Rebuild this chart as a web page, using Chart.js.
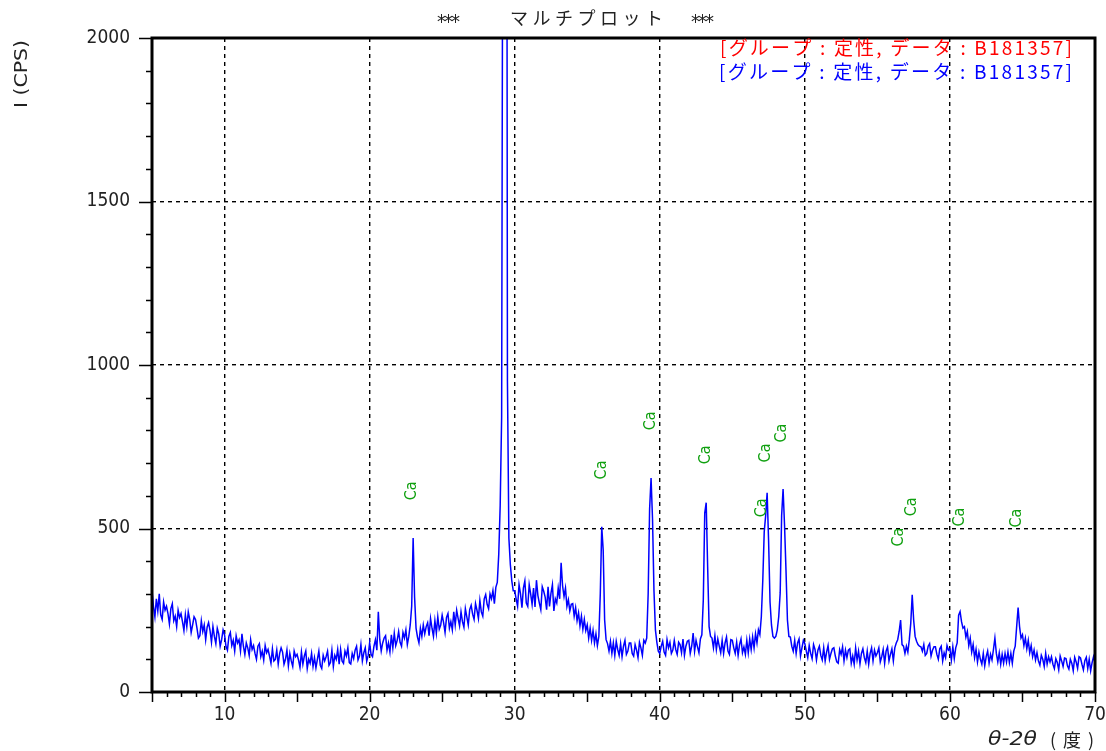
<!DOCTYPE html>
<html><head><meta charset="utf-8">
<script src="https://cdn.jsdelivr.net/npm/chart.js@4"></script>
<style>html,body{margin:0;padding:0;background:#fff}#wrap{width:1106px;height:751px;position:relative}</style>
</head><body><div id="wrap"><canvas id="c"></canvas></div>
<script>
// ---- data ----
const startAngle = 5;      // 2θ of first sample (deg)
const angleStep = 0.1;     // sampling step (deg)
const intensity = [
  312,262,230,285,248,300,236,222,275,250,
  262,240,208,255,270,218,232,200,250,228,
  240,215,188,236,200,245,222,182,205,230,
  222,195,165,172,218,185,205,160,198,212,
  188,152,200,170,148,195,178,140,160,190,
  175,140,128,170,182,142,158,125,172,150,
  160,125,178,140,115,150,135,112,160,130,
  142,118,100,140,148,108,125,98,142,120,
  130,110,88,132,95,100,128,85,118,135,
  122,85,100,128,80,118,95,78,125,108,
  115,98,75,122,85,110,125,72,100,88,
  118,78,105,74,100,125,82,72,112,95,
  108,125,82,90,128,78,112,100,130,85,
  130,95,88,125,110,135,90,86,118,102,
  128,140,98,110,145,95,120,135,94,112,
  150,115,108,140,160,128,245,160,125,150,
  165,172,128,150,122,175,135,180,142,158,
  185,152,140,182,165,190,145,170,205,262,
  471,290,195,168,150,195,170,205,178,200,
  212,172,225,195,170,218,180,230,192,205,
  235,212,182,228,240,195,215,190,245,205,
  250,225,202,245,215,198,255,230,205,252,
  265,238,222,270,250,225,280,245,232,285,
  298,268,255,300,285,310,270,320,335,420,
  570,840,3000,6000,5000,950,470,390,340,310,
  310,285,262,328,300,258,318,340,272,262,
  328,300,268,318,260,342,295,272,252,322,
  308,290,252,322,262,302,328,248,285,272,
  318,285,395,325,292,318,262,282,248,268,
  270,232,258,218,242,202,232,192,222,188,
  205,165,195,158,188,150,178,142,170,300,
  505,434,220,160,148,125,155,118,150,112,
  155,130,112,148,108,140,158,115,125,150,
  150,118,110,145,128,105,152,135,112,158,
  150,165,300,560,654,530,310,190,152,125,
  118,140,155,122,112,160,135,152,118,128,
  158,130,115,152,145,120,162,112,140,155,
  158,118,140,180,125,158,138,120,162,175,
  281,547,579,383,200,170,165,135,172,130,
  162,140,120,158,118,150,168,125,115,160,
  158,135,118,152,112,145,162,120,138,115,
  158,120,162,130,168,135,178,150,190,175,
  230,340,490,540,609,465,275,205,170,165,
  170,190,230,303,540,621,510,373,220,170,
  168,140,125,158,118,150,162,110,135,158,
  148,125,105,142,118,102,145,130,98,128,
  140,112,98,135,95,122,142,100,118,132,
  135,110,92,88,130,115,138,95,128,105,
  128,132,88,110,85,135,98,125,86,118,
  132,105,90,125,85,118,135,95,128,110,
  120,135,92,108,130,88,125,138,95,115,
  132,95,135,150,160,185,220,145,140,118,
  140,122,160,210,297,220,170,155,145,140,
  138,125,145,112,118,140,148,110,128,138,
  138,115,100,132,140,95,120,105,142,128,
  132,98,138,102,135,150,235,246,215,195,
  200,168,185,142,165,122,145,105,130,92,
  122,100,85,118,80,108,125,88,115,98,
  130,165,118,92,120,85,115,88,118,92,
  122,90,118,88,125,140,200,258,200,165,
  175,142,165,132,158,120,142,108,128,98,
  120,95,82,112,100,78,118,85,108,92,
  108,85,72,102,90,68,110,95,78,104,
  102,80,70,100,88,65,106,92,72,108,
  104,85,68,96,106,72,100,65,90,108,
  90
];
const caAngles = [22.92, 35.98, 39.39, 43.16, 47.04, 47.32, 48.42, 56.49, 57.38, 60.69, 64.62];
const caLevels = [615, 679, 829, 725, 563, 731, 792, 474, 566, 535, 532];
const caLabel = 'Ca';
const xTickValues = [10, 20, 30, 40, 50, 60, 70];
const yTickValues = [0, 500, 1000, 1500, 2000];
const xGridValues = [10, 20, 30, 40, 50, 60];
const yGridValues = [500, 1000, 1500];
const titleStars = '***';
const titleText = 'マルチプロット';
const legendText = '[グループ : 定性, データ : B181357]';
const yTitle = 'I (CPS)';
const xTitleA = 'θ-2θ';
const xTitleB = '(度)';

// ---- helpers ----
const NARROW = "'Liberation Sans Narrow','DejaVu Sans Condensed','DejaVu Sans',sans-serif";
const CJK = "'Noto Sans CJK JP','Noto Sans',sans-serif";

function fitText(ctx, text, x, y, width, opt) {
  ctx.save();
  ctx.font = opt.font; ctx.fillStyle = opt.color;
  ctx.textBaseline = 'middle'; ctx.textAlign = 'left';
  ctx.translate(x, y);
  if (opt.rotate) ctx.rotate(opt.rotate);
  const w0 = ctx.measureText(text).width;
  const n = [...text].length;
  const left = opt.align === 'center' ? -width / 2 : (opt.align === 'right' ? -width : 0);
  if (opt.mode === 'spacing' && ('letterSpacing' in ctx) && n > 1) {
    ctx.letterSpacing = ((width - w0) / (n - 1)) + 'px';
    ctx.fillText(text, left, 0);
  } else {
    ctx.translate(left, 0);
    ctx.scale(width / w0, 1);
    ctx.fillText(text, 0, 0);
  }
  ctx.restore();
}

const decor = {
  id: 'decor',
  afterDatasetsDraw(chart) {
    const {ctx, chartArea: a, scales: {x, y}} = chart;
    ctx.save();
    ctx.strokeStyle = '#000';
    ctx.lineWidth = 1.5;
    ctx.beginPath();
    for (let v = 5; v <= 70; v++) {
      const px = Math.round(x.getPixelForValue(v)) + 0.5;
      const len = v % 5 === 0 ? 10 : 5;
      ctx.moveTo(px, a.bottom); ctx.lineTo(px, a.bottom + len);
    }
    for (let v = 0; v <= 2000; v += 100) {
      const py = Math.round(y.getPixelForValue(v)) + 0.5;
      const len = v % 500 === 0 ? 13 : 6;
      ctx.moveTo(a.left - len, py); ctx.lineTo(a.left, py);
    }
    ctx.stroke();
    ctx.lineWidth = 3;
    ctx.strokeRect(a.left, a.top, a.right - a.left, a.bottom - a.top);
    ctx.restore();

    ctx.save();
    ctx.font = "16px 'DejaVu Sans Condensed','DejaVu Sans',sans-serif";
    ctx.fillStyle = '#10a010';
    ctx.textAlign = 'center'; ctx.textBaseline = 'middle';
    caAngles.forEach((ang, i) => {
      const px = x.getPixelForValue(ang), py = y.getPixelForValue(caLevels[i]);
      ctx.save(); ctx.translate(px, py); ctx.rotate(-Math.PI / 2);
      ctx.fillText(caLabel, 0, 0); ctx.restore();
    });
    ctx.restore();
  },
  afterDraw(chart) {
    const ctx = chart.ctx;
    fitText(ctx, titleStars, 437, 23, 23, {font: "20px " + NARROW, color: '#222', mode: 'spacing'});
    fitText(ctx, titleText, 510, 18, 153, {font: "18px " + CJK, color: '#222', mode: 'spacing'});
    fitText(ctx, titleStars, 691, 23, 23, {font: "20px " + NARROW, color: '#222', mode: 'spacing'});
    fitText(ctx, legendText, 720, 48, 352, {font: "19px " + CJK, color: '#ff0000', mode: 'spacing'});
    fitText(ctx, legendText, 719, 72, 353, {font: "19px " + CJK, color: '#0000ff', mode: 'spacing'});
    fitText(ctx, yTitle, 22, 74, 68, {font: "18px " + NARROW, color: '#222', mode: 'scale', rotate: -Math.PI / 2, align: 'center'});
    fitText(ctx, xTitleA, 988, 740, 49, {font: "italic 19px 'DejaVu Sans','Noto Sans',sans-serif", color: '#222', mode: 'scale'});
    fitText(ctx, xTitleB, 1050, 740, 44, {font: "18px " + CJK, color: '#222', mode: 'spacing'});
  }
};

const points = intensity.map((v, i) => ({x: +(startAngle + i * angleStep).toFixed(1), y: v}));

new Chart(document.getElementById('c'), {
  type: 'line',
  data: {datasets: [{data: points, borderColor: '#0000ff', borderWidth: 1.5, pointRadius: 0, tension: 0, fill: false}]},
  options: {
    responsive: true, maintainAspectRatio: false, animation: false,
    layout: {padding: {top: 38, right: 11, left: 0, bottom: 0}},
    plugins: {legend: {display: false}, tooltip: {enabled: false}, title: {display: false}},
    scales: {
      x: {
        type: 'linear', min: 5, max: 70,
        afterBuildTicks: s => { s.ticks = xTickValues.map(v => ({value: v})); },
        afterFit: s => { s.height = 59; s.paddingLeft = 0; s.paddingRight = 0; },
        grid: {color: c => (c.tick && xGridValues.includes(c.tick.value)) ? '#000' : 'rgba(0,0,0,0)', lineWidth: 1.4, drawTicks: false},
        border: {display: false, dash: [4, 4]},
        ticks: {padding: 12, autoSkip: false, maxRotation: 0, color: '#222', font: {family: NARROW, size: 19}, callback: v => String(v)}
      },
      y: {
        min: 0, max: 2000,
        afterBuildTicks: s => { s.ticks = yTickValues.map(v => ({value: v})); },
        afterFit: s => { s.width = 152; s.paddingTop = 0; s.paddingBottom = 0; },
        grid: {color: c => (c.tick && yGridValues.includes(c.tick.value)) ? '#000' : 'rgba(0,0,0,0)', lineWidth: 1.4, drawTicks: false},
        border: {display: false, dash: [4, 4]},
        ticks: {padding: 22, color: '#222', font: {family: NARROW, size: 19}, callback: v => String(v)}
      }
    }
  },
  plugins: [decor]
});
</script>
</body></html>
